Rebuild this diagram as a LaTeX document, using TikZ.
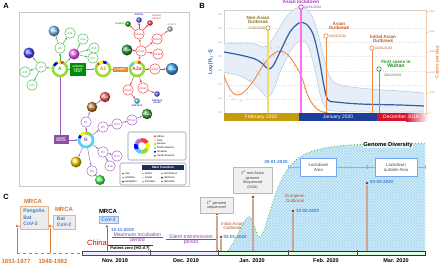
\documentclass[tikz,border=0pt]{standalone}
\usepackage{fontspec}
\setmainfont{Liberation Sans}
\usetikzlibrary{arrows.meta,patterns}
\definecolor{gA}{HTML}{3DB94A}
\definecolor{limeA}{HTML}{9AD936}
\definecolor{rA}{HTML}{F23C3C}
\definecolor{pB}{HTML}{A25CC0}
\definecolor{cyB}{HTML}{4DD4F2}
\definecolor{frameg}{HTML}{BBBBBB}
\definecolor{dblue}{HTML}{2F5FA8}
\definecolor{lblue}{HTML}{B9CFE8}
\definecolor{oc}{HTML}{EE8A45}
\definecolor{ocd}{HTML}{C45A18}
\definecolor{yl}{HTML}{F5D96A}
\definecolor{olv}{HTML}{8E7518}
\definecolor{mg}{HTML}{FF6EF5}
\definecolor{mgd}{HTML}{A43BBE}
\definecolor{gw}{HTML}{5DBB5A}
\definecolor{gwd}{HTML}{2E8B2E}
\definecolor{bandg}{HTML}{C49B0C}
\definecolor{bandb}{HTML}{1D3E9A}
\definecolor{bandr}{HTML}{D5132B}
\definecolor{dt}{HTML}{3F7FD0}
\definecolor{mrca}{HTML}{D9772A}
\definecolor{evl}{HTML}{CBA796}
\definecolor{evd}{HTML}{8A3510}
\definecolor{evt}{HTML}{B5562B}
\definecolor{purp}{HTML}{8E44AD}
\definecolor{hatchc}{HTML}{8FD0EE}
\definecolor{gdiv}{HTML}{6BBE45}
\definecolor{navy}{HTML}{1F2D5A}
\definecolor{orA}{HTML}{E8892B}
\newcommand{\fsz}[1]{\fontsize{#1}{#1}\selectfont}
\newcommand{\ringnode}[5]{%
  \node[circle,fill=white,minimum size=16.5pt,inner sep=0pt,text=#4,font=\bfseries\fsz{5}] (#1) at #2 {#3};
  \foreach \sa/\sb/\sc in {#5}{\draw[line width=2.6pt,\sc] ([shift={(\sa:7)}]#1.center) arc[start angle=\sa,end angle=\sb,radius=7];}%
}
\begin{document}
\begin{tikzpicture}[x=1pt,y=-1pt,
  sn/.style={circle,draw=#1,fill=white,line width=0.45pt,minimum size=10.5pt,inner sep=0pt,text=#1,font=\fsz{3}},
  sph/.style={circle,ball color=#1,minimum size=11pt,inner sep=0pt,font=\fsz{3},text=white},
  ssph/.style={circle,ball color=#1,minimum size=5.5pt,inner sep=0pt},
  ar/.style={draw=#1,line width=0.45pt,-{Stealth[length=2.2pt,width=2pt]}},
  tn/.style={inner sep=0pt,font=\fsz{#1}},
  lab/.style={inner sep=0pt,font=\bfseries\fsz{7.5}},
  evbox/.style={draw=gray!55,fill=gray!12,align=center,font=\fsz{3.8}\linespread{1.15}\selectfont,text=black!75,inner sep=1.6pt},
  ldbox/.style={draw=hatchc!80!blue,fill=white,align=center,font=\fsz{4.4},text=black!70,inner sep=2pt},
  evline/.style={draw=evl,line width=1.1pt},
  edot/.style={circle,fill=evd,inner sep=0pt,minimum size=2.8pt},
  vmark/.style={circle,draw=#1,fill=white,line width=0.6pt,inner sep=0pt,minimum size=4.4pt},
  ]
\useasboundingbox (0,0) rectangle (440,265);
\fill[white] (0,0) rectangle (440,265);

%================ PANEL A ================
\node[lab] (labA) at (6,6) {A};
\draw[frameg!80,line width=0.6pt] (19,12) rectangle (189,186);

% green family
\ringnode{A}{(60,69)}{A}{gA}{0/360/limeA,-85/-60/rA,-115/-85/yellow,-150/-115/blue}
\node[sn=gA] (A1) at (60,48) {A1};
\node[sph=cyB!70!blue!60] (A1a) at (54,31) {A1a};
\node[sn=gA] (A1b) at (70,33) {A1b};
\node[sph=magenta!60] (A3) at (74,54) {A3};
\node[sn=gA] (A3a) at (83,39) {A3a};
\node[sn=gA] (A3b) at (94,48) {A3b};
\node[sn=gA] (A3c) at (93,58) {A3c};
\node[sn=gA] (A4) at (41,67) {A4};
\node[sph=blue!70] (A4a) at (29,53) {A4a};
\node[sn=gA] (A4b) at (25,72) {A4b};
\node[sn=gA] (A4c) at (32,85) {A4c};
\draw[ar=gA] (A) -- (A1);
\draw[ar=gA] (A1) -- (A1a);
\draw[ar=gA] (A1) -- (A1b);
\draw[ar=gA] (A) -- (A3);
\draw[ar=gA] (A3) -- (A3a);
\draw[ar=gA] (A3) -- (A3b);
\draw[ar=gA] (A3) -- (A3c);
\draw[ar=gA] (A) -- (A4);
\draw[ar=gA] (A4) -- (A4a);
\draw[ar=gA] (A4) -- (A4b);
\draw[ar=gA] (A4) -- (A4c);

% A2 and A2a
\ringnode{A2}{(103,69)}{A2}{orA}{0/360/limeA,-90/-60/blue,-125/-90/yellow,-140/-125/rA}
\ringnode{A2a}{(137,69)}{A2a}{rA}{0/360/limeA,-85/-60/rA,-120/-85/yellow,-150/-120/cyB}
\draw[ar=gA] (A) -- (A2);
\draw[ar=orA] (A2) -- (A2a);
\node[fill=green!55!black,text=white,align=center,font=\bfseries\fsz{2.6},inner sep=1pt,minimum width=16pt,minimum height=13pt] (gbox) at (78,69.5) {A23403G\\C3037T\\C241T};
\node[fill=orA,text=white,font=\bfseries\fsz{2.8},inner sep=0.8pt,minimum width=15pt,minimum height=5.5pt] (obox) at (120,69.5) {C14408T};

% red family
\node[sn=rA] (r1) at (141,51) {A2a2};
\node[sn=rA] (r2) at (139,34) {A2a2a};
\node[sph=green!50!black!80] (g1) at (127,50) {A2a2b};
\node[sn=rA] (r3) at (157,39) {A2a2c};
\node[sn=rA] (r4) at (158,54) {A2a2d};
\node[ssph=blue!70] (s1) at (139,20) {};
\node[ssph=green!60!black] (s2) at (128,24) {};
\node[ssph=rA] (s3) at (150,23) {};
\node[ssph=gray!60] (s4) at (170,29) {};
\node[tn=2.6,text=blue!80!black] (s1l) at (139,14.5) {A2a2a1};
\node[tn=2.6,text=green!50!black,anchor=east] (s2l) at (124.5,24) {A2a2a3};
\node[tn=2.6,text=rA,align=left,anchor=west] (s3l) at (152,17) {A2a2a6\\A2a2a7};
\node[tn=2.6,text=gray,anchor=south] (s4l) at (172,25.5) {A2a2c1};
\draw[ar=rA] (A2a) -- (r1);
\draw[ar=rA] (r1) -- (r2);
\draw[ar=rA] (r1) -- (g1);
\draw[ar=rA] (r1) -- (r3);
\draw[ar=rA] (r1) -- (r4);
\draw[ar=rA] (r2) -- (s1);
\draw[ar=rA] (r2) -- (s2);
\draw[ar=rA] (r2) -- (s3);
\draw[ar=rA] (r3) -- (s4);
\node[sn=rA] (r5) at (155,69) {A2a5};
\node[sph=cyB!80!blue,minimum size=12pt] (r5a) at (172,69) {A2a5a};
\node[sn=rA] (r6) at (128,90) {A2a3};
\node[sn=rA] (r7) at (143,88) {A2a4};
\node[ssph=cyB] (s5) at (137,101) {};
\node[ssph=blue!65] (s6) at (157,94) {};
\node[tn=2.6,text=blue!70!black] (s5l) at (137,106) {A2a3a1a};
\node[tn=2.6,text=blue!70!black,align=center] (s6l) at (157,101.5) {A2a4a1a\\A2a4b};
\draw[ar=rA] (A2a) -- (r5);
\draw[ar=rA] (r5) -- (r5a);
\draw[ar=rA] (A2a) -- (r6);
\draw[ar=rA] (A2a) -- (r7);
\draw[ar=rA] (r6) -- (s5);
\draw[ar=rA] (r7) -- (s6);

% purple family
\ringnode{B}{(86,140)}{B}{pB}{0/360/cyB,-95/-50/limeA,-140/-95/yellow,-165/-140/blue}
\draw[ar=pB] (A) |- (B);
\node[fill=pB!85!black,text=white,align=center,font=\bfseries\fsz{2.6},inner sep=0.8pt,minimum width=15pt,minimum height=9pt] (pbox) at (61,139.5) {C8782T\\T28144C};
\node[sn=pB] (B1) at (86,122) {B1};
\node[sph=brown!80!orange,minimum size=10.5pt] (B1a) at (92,107) {B1a};
\node[sph=rA!80,minimum size=10.5pt] (B1a1) at (105,97) {B1a1};
\node[sn=pB] (B5) at (103,127) {B5};
\node[sn=pB] (B5a) at (117,124) {B5a};
\node[sn=pB] (B5a1) at (132,120) {B5a1};
\node[sph=green!55!black!75,minimum size=10.5pt] (B5a1a) at (147,114) {B5a1a};
\node[sph=yellow!70!orange,minimum size=11pt] (B2) at (76,162) {B2};
\node[sn=pB] (B3) at (92,171) {B3};
\node[sph=green!70,minimum size=10pt] (B3a) at (100,180) {B3a};
\node[sn=pB] (B4) at (103,152) {B4};
\node[sn=pB] (B4a) at (117,156) {B4a};
\node[sn=pB] (B4b) at (110,166) {B4b};
\draw[ar=pB] (B) -- (B1);
\draw[ar=pB] (B1) -- (B1a);
\draw[ar=pB] (B1a) -- (B1a1);
\draw[ar=pB] (B) -- (B5);
\draw[ar=pB] (B5) -- (B5a);
\draw[ar=pB] (B5a) -- (B5a1);
\draw[ar=pB] (B5a1) -- (B5a1a);
\draw[ar=pB] (B) -- (B2);
\draw[ar=pB] (B) -- (B3);
\draw[ar=pB] (B3) -- (B3a);
\draw[ar=pB] (B) -- (B4);
\draw[ar=pB] (B4) -- (B4a);
\draw[ar=pB] (B4) -- (B4b);

% legends
\draw[rounded corners=1.5pt,draw=navy!50,line width=0.6pt,fill=white] (128,132) rectangle (186,160);
\foreach \sa/\sb/\sc in {-100/-30/rA,-30/30/yellow,30/100/limeA,100/150/cyB,150/200/blue,200/260/violet!55}{
  \draw[line width=4pt,\sc] ([shift={(\sa:6)}]142,146) arc[start angle=\sa,end angle=\sb,radius=6];}
\foreach \t/\c [count=\i] in {Africa/rA,Asia/yellow,Europe/limeA,North America/cyB,Oceania/blue,South America/violet!70}{
  \fill[\c] (155,{132.3+3.9*\i}) circle (1.1);
  \node[anchor=west,tn=2.6] (leg\i) at (157,{132.3+3.9*\i}) {\t};}
\draw[rounded corners=1.5pt,draw=navy!50,line width=0.6pt,fill=white] (120,163) rectangle (186,185);
\node[fill=navy,text=white,font=\bfseries\fsz{3.2},minimum width=42pt,minimum height=5pt,inner sep=0pt] (mfh) at (163,167.5) {Main founders};
\foreach \t/\c/\x/\y [count=\i] in {USA/rA/123/173.5,CANADA/orange/123/177.5,GERMANY/violet/123/181.5,SPAIN/limeA/143/173.5,CHINA/yellow/143/177.5,ICELAND/cyB/143/181.5,AUSTRALIA/green/162/173.5,UNITED K./blue/162/177.5,NETHERL./gray/162/181.5}{
  \fill[\c] (\x,\y) circle (1);
  \node[anchor=west,tn=2.4] (mf\i) at ({\x+1.6},\y) {\t};}

%================ PANEL B ================
\node[lab] (labB) at (202,6) {B};
\draw[frameg!70,line width=0.4pt] (224,10) rectangle (426,113);
\foreach \yy in {98.9,84.8,70.7,56.6,42.5,28.4}{\draw[gray!25,dotted,line width=0.3pt] (224,\yy) -- (426,\yy);}
\foreach \v/\yy [count=\i] in {0.0/113,0.5/98.9,1.0/84.8,1.5/70.7,2.0/56.6,2.5/42.5,3.0/28.4,3.5/14.3}{
  \node[tn=2.6,text=dblue!70,anchor=east] (lt\i) at (222,\yy) {\v};}
\node[rotate=90,font=\bfseries\fsz{4.8},text=dblue,inner sep=0pt] (ylab) at (211,62) {Log [R$_0$-1]};
% confidence band
\fill[lblue!35] plot[smooth,tension=0.6] coordinates {(224,44) (240,43) (255,44) (263,47) (269,44) (277,32) (287,16) (297,8) (305,8) (312,16) (318,34) (324,58) (330,77) (340,85) (370,89) (400,91) (424,93)}
  -- plot[smooth,tension=0.6] coordinates {(424,112) (370,112) (335,111) (326,108) (320,94) (315,70) (308,46) (300,41) (291,50) (281,70) (273,91) (267,97) (262,92) (254,84) (240,76) (224,72)} -- cycle;
\draw[lblue,line width=0.6pt] plot[smooth,tension=0.6] coordinates {(224,44) (240,43) (255,44) (263,47) (269,44) (277,32) (287,16) (297,8) (305,8) (312,16) (318,34) (324,58) (330,77) (340,85) (370,89) (400,91) (424,93)};
\draw[lblue,line width=0.6pt] plot[smooth,tension=0.6] coordinates {(224,72) (240,76) (254,84) (262,92) (267,97) (273,91) (281,70) (291,50) (300,41) (308,46) (315,70) (320,94) (326,108) (335,111) (370,112) (424,112)};
% orange dots
\foreach \px/\py in {226/82,228/74,229/96,233/99,238/92,241/101,247/93,250/80,256/71,260/75,263/60,266/64,271/48,274/56,278/47,283/55,286/44,290/63,294/66,297/70,300/77,304/88,306/92,309/99,312/104,316/106,319/110,324/112,245/86,252/88}{
  \fill[oc!70] (\px,\py) circle (0.75);}
\draw[oc,line width=0.9pt] plot[smooth,tension=0.6] coordinates {(224,76) (230,89) (236,95) (244,92) (254,80) (264,64) (272,55) (280,51) (288,55) (296,66) (302,78) (308,96) (314,106) (320,111) (328,113)};
\draw[dblue,line width=1.2pt] plot[smooth,tension=0.55] coordinates {(224,52) (240,55) (255,59) (263,64) (268,69) (273,66) (280,52) (290,32) (299,23) (306,24) (313,34) (319,58) (324,86) (328,100) (336,102) (360,104) (400,105) (424,106)};
% event lines
\draw[yl,line width=1.2pt] (268,30) -- (268,113);
\node[vmark=olv!80] (m1) at (268,28) {};
\node[tn=4.6,font=\bfseries\fsz{4.6},text=olv,align=center] (t1) at (258,19.5) {Non-Asian\\[-0.6pt]Outbreak};
\node[tn=3.4,text=olv,anchor=east] (d1) at (265.5,28.5) {12/02/2020};
\draw[mg,line width=1.4pt] (301,9) -- (301,113);
\node[vmark=mgd] (m2) at (301,7) {};
\node[font=\bfseries\fsz{4.8},text=mgd,inner sep=0pt] (t2) at (301,1.8) {Asian lockdown};
\node[tn=3.4,text=mgd,anchor=west] (d2) at (304,7.3) {30/01/2020};
\draw[oc,line width=1pt] (326,38) -- (326,113);
\node[vmark=oc] (m3) at (326,36) {};
\node[font=\bfseries\fsz{4.6},text=ocd,align=center,inner sep=0pt] (t3) at (339,26) {Asian\\[-0.6pt]Outbreak};
\node[tn=3.4,text=ocd,anchor=west] (d3) at (329,36.3) {20/01/2020};
\draw[oc,line width=1pt] (372,50) -- (372,113);
\node[vmark=oc] (m4) at (372,48) {};
\node[font=\bfseries\fsz{4.6},text=ocd,align=center,inner sep=0pt] (t4) at (383,38.5) {Initial Asian\\[-0.6pt]Outbreak};
\node[tn=3.4,text=ocd,anchor=west] (d4) at (375,48.3) {02/01/2020};
\draw[gw,line width=1pt] (379,71) -- (379,113);
\node[vmark=gwd] (m5) at (379,69) {};
\node[font=\bfseries\fsz{4.6},text=gwd,align=center,inner sep=0pt] (t5) at (396,63.5) {First cases in\\[-0.4pt]{\fsz{5.2}Wuhan}};
\node[tn=3.4,text=gwd,anchor=west] (d5) at (384,75) {30/12/2019};
% month band
\fill[bandg] (224,113) rectangle (299,121);
\fill[bandb] (299,113) rectangle (377,121);
\fill[bandr] (377,113) rectangle (406,121);
\shade[left color=bandr,right color=white] (406,113) rectangle (428,121);
\node[font=\fsz{5},text=white,inner sep=0pt] (mb1) at (261,117.2) {February 2020};
\node[font=\fsz{5},text=white,inner sep=0pt] (mb2) at (338,117.2) {January 2020};
\node[font=\fsz{5},text=white,inner sep=0pt] (mb3) at (401,117.2) {December 2019};
% right axis
\draw[oc!45,line width=0.6pt] (426,10) -- (426,113);
\foreach \v/\yy [count=\i] in {0/113,1000/92.7,2000/72.4,3000/52.1,4000/31.8,5000/11.5}{
  \draw[oc!60,line width=0.4pt] (426,\yy) -- (428,\yy);
  \node[tn=2.6,text=oc,anchor=west] (rt\i) at (429,\yy) {\v};}
\node[rotate=90,font=\bfseries\fsz{4.8},text=oc,inner sep=0pt] (y2lab) at (437.5,62) {Cases per day};

%================ PANEL C ================
\node[lab] (labC) at (6,197) {C};
% genome diversity area
\fill[hatchc!30] (228,251) -- plot[smooth,tension=0.6] coordinates {(228,251) (236,238) (244,222) (250,217) (255,228) (259,237) (264,230) (272,205) (280,183) (290,166) (305,154) (325,148) (350,145) (380,144) (425,143)} -- (425,251) -- cycle;
\fill[pattern=crosshatch,pattern color=hatchc!80] (228,251) -- plot[smooth,tension=0.6] coordinates {(228,251) (236,238) (244,222) (250,217) (255,228) (259,237) (264,230) (272,205) (280,183) (290,166) (305,154) (325,148) (350,145) (380,144) (425,143)} -- (425,251) -- cycle;
\draw[gdiv,dotted,line width=0.9pt] plot[smooth,tension=0.6] coordinates {(228,251) (236,238) (244,222) (250,217) (255,228) (259,237) (264,230) (272,205) (280,183) (290,166) (305,154) (325,148) (350,145) (380,144) (425,143)};
\node[font=\bfseries\fsz{5.8},inner sep=0.6pt,fill=white,fill opacity=0.6,text opacity=1] (gd) at (388,145) {Genome Diversity};
% lockdown line
\coordinate (lk0) at (288,167);
\coordinate (lk1) at (425,167);
\draw[dt!60,line width=0.6pt] (lk0) -- (lk1);
\foreach \xx in {288,367,425}{\draw[dt!60,line width=0.6pt] (\xx,165) -- (\xx,169);}
\node[ldbox,minimum width=36pt,minimum height=18pt] (ld1) at (318.5,167.5) {Lockdown\\Asia};
\node[ldbox,minimum width=42pt,minimum height=18pt] (ld2) at (396,167.5) {Lockdown\\outside-Asia};
\node[font=\bfseries\fsz{4.5},text=dt,inner sep=0pt] (d30) at (276,161.5) {30-01-2020};
% timeline bar
\draw[fill=gray!12!blue!8,draw=black!70,line width=0.5pt] (82,251) rectangle (218,255);
\draw[fill=green!12,draw=green!30!black,line width=0.5pt] (218,251) rectangle (425,255);
\foreach \xx in {150,218,288,357}{\draw[black!70,line width=0.5pt] (\xx,250) -- (\xx,256);}
\foreach \t/\xx [count=\i] in {Nov. 2019/115,Dec. 2019/186,Jan. 2020/252,Feb. 2020/326,Mar. 2020/396}{
  \node[font=\bfseries\fsz{5.5},inner sep=0pt] (mo\i) at (\xx,261) {\t};}
% events
\node[edot] (e1) at (217,214) {};
\coordinate (e1b) at (217,251);
\draw[evline] (e1) -- (e1b);
\node[evbox,minimum width=33pt,minimum height=16pt] (e1box) at (216.5,205) {1\textsuperscript{st} genome\\sequenced};
\node[edot] (e2) at (221,237) {};
\coordinate (e2b) at (221,251);
\draw[evline] (e2) -- (e2b);
\node[font=\fsz{4.4},text=evt,align=center,inner sep=0pt] (e2t) at (232.5,226) {Initial Asian\\Outbreak};
\node[font=\bfseries\fsz{4.5},text=dt,anchor=west,inner sep=0pt] (e2d) at (223.5,237.3) {02-01-2020};
\node[edot] (e3) at (253,197) {};
\coordinate (e3b) at (253,251);
\draw[evline] (e3) -- (e3b);
\node[evbox,minimum width=39pt,minimum height=26pt] (e3box) at (252.5,180) {1\textsuperscript{st} non-Asian\\genome\\Sequenced\\(USA)};
\node[edot] (e4) at (293,211) {};
\coordinate (e4b) at (293,251);
\draw[evline] (e4) -- (e4b);
\node[font=\fsz{4.4},text=evt,align=center,inner sep=0pt] (e4t) at (295,198.5) {European\\Outbreak};
\node[font=\bfseries\fsz{4.5},text=dt,anchor=west,inner sep=0pt] (e4d) at (296,210.5) {12-02-2020};
\node[edot] (e5) at (367,183) {};
\coordinate (e5b) at (367,251);
\draw[evline] (e5) -- (e5b);
\node[font=\bfseries\fsz{4.5},text=dt,anchor=west,inner sep=0pt] (e5d) at (370,182) {03-03-2020};
% MRCA ancestors
\node[draw=mrca!55,fill=gray!15,align=left,font=\bfseries\fsz{5}\linespread{1.3}\selectfont,text=dt,minimum width=28pt,minimum height=23pt,inner sep=1.2pt] (m1box) at (34,217.5) {Pangolin\\Bat\\CoV-2};
\node[font=\bfseries\fsz{6},text=mrca,inner sep=0pt] (m1t) at (33,201.5) {MRCA};
\node[draw=mrca!55,fill=gray!15,align=left,font=\bfseries\fsz{5}\linespread{1.3}\selectfont,text=dt,minimum width=22pt,minimum height=14pt,inner sep=1.2pt] (m2box) at (64,222) {Bat\\CoV-2};
\node[font=\bfseries\fsz{6},text=mrca,inner sep=0pt] (m2t) at (64,209.5) {MRCA};
\node[circle,fill=mrca,inner sep=0pt,minimum size=2.8pt] (md1) at (17,226) {};
\node[circle,fill=mrca,inner sep=0pt,minimum size=2.8pt] (md2) at (50,226) {};
\coordinate (mb1c) at (17,253);
\coordinate (mb2c) at (50,253);
\coordinate (barL) at (82,253);
\draw[mrca,line width=0.8pt] (md1) -- (m1box.west |- md1);
\draw[mrca,line width=0.8pt] (md2) -- (m2box.west |- md2);
\draw[mrca,line width=0.8pt] (md1) -- (mb1c);
\draw[mrca,line width=0.8pt] (md2) -- (mb2c);
\draw[mrca,line width=0.8pt,dashed] (mb1c) -- (barL);
\node[font=\bfseries\fsz{6},text=mrca,inner sep=0pt] (y1) at (16,261) {1851-1877};
\node[font=\bfseries\fsz{6},text=mrca,inner sep=0pt] (y2) at (53,261) {1948-1982};
% MRCA CoV-2
\node[font=\bfseries\fsz{6},inner sep=0pt] (m3t) at (108,211) {MRCA};
\node[draw=dt!60,fill=dt!20,font=\bfseries\fsz{5},text=dt,minimum width=19pt,minimum height=7pt,inner sep=0.6pt] (m3box) at (108.5,219.5) {CoV-2};
\node[circle,fill=dt,inner sep=0pt,minimum size=2.8pt] (md3) at (107,226.5) {};
\coordinate (mb3c) at (107,251);
\draw[dt,line width=0.8pt] (md3) -- (mb3c);
\node[font=\bfseries\fsz{4.5},text=dt,anchor=west,inner sep=0pt] (d1211) at (111,229.5) {12-11-2019};
\node[font=\fsz{5.2},text=purp,align=center,inner sep=0pt] (mip) at (137.5,238) {Maximum incubation\\period};
\draw[purp,line width=0.5pt] (112,236.8) -- (163,236.8);
\node[font=\fsz{5.2},text=purp,align=center,inner sep=0pt] (stp) at (191,240) {Silent transmission\\period};
\draw[purp,line width=0.5pt] (166,238.8) -- (216,238.8);
\node[font=\fsz{7.5},text=red!85!black,inner sep=0pt] (china) at (97,243) {China};
\draw[black!80,line width=0.5pt] (108,245.6) -- (153,245.6);
\node[font=\bfseries\fsz{4},inner sep=0pt] (pz) at (130,248.7) {Patient zero [HG-A?]};
\end{tikzpicture}
\end{document}
